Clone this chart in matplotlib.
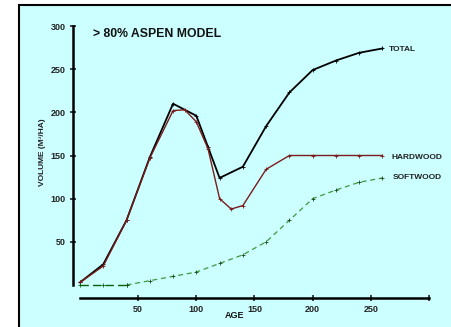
import matplotlib
matplotlib.use("Agg")
import matplotlib.pyplot as plt
from matplotlib.patches import Rectangle

plt.rcParams['font.family'] = ['Liberation Sans', 'DejaVu Sans']

# data
total_age = [0, 20, 40, 60, 80, 100, 110, 120, 140, 160, 180, 200, 220, 240, 260]
total_vol = [3, 24, 75, 148, 210, 196, 160, 124, 137, 184, 223, 249, 260, 269, 274]

hard_age = [0, 20, 40, 60, 80, 90, 100, 110, 120, 130, 140, 160, 180, 200, 220, 240, 260]
hard_vol = [3, 22, 75, 147, 202, 203, 189, 158, 100, 88, 92, 134, 150, 150, 150, 150, 150]

soft_age = [0, 20, 40, 60, 80, 100, 120, 140, 160, 180, 200, 220, 240, 260]
soft_vol = [0, 0, 0, 5, 10, 15, 25, 35, 50, 75, 100, 110, 119, 124]

x_ticks = [50, 100, 150, 200, 250, 300]
x_labels = ['50', '100', '150', '200', '250', '']
y_ticks = [50, 100, 150, 200, 250, 300]

W, H = 452, 327
fig = plt.figure(figsize=(W / 100, H / 100), dpi=100)
fig.patch.set_facecolor('white')

# cyan panel with black border on left/top (rest runs off the image)
panel = Rectangle((19 / W, -0.1), 1.2, 1.1 - 5 / H,
                  transform=fig.transFigure, facecolor='#ccffff',
                  edgecolor='black', linewidth=1.5, zorder=-5)
fig.add_artist(panel)

ax = fig.add_axes([80 / W, 42 / H, 349 / W, 259 / H])
ax.set_zorder(2)
ax.set_facecolor('none')
ax.set_xlim(0, 300)
ax.set_ylim(0, 300)

for s in ['top', 'right']:
    ax.spines[s].set_visible(False)
ax.spines['left'].set_position(('outward', 5))
ax.spines['bottom'].set_position(('outward', 9))
ax.spines['left'].set_bounds(0, 300)
ax.spines['bottom'].set_bounds(0, 300)
ax.spines['left'].set_linewidth(1.8)
ax.spines['bottom'].set_linewidth(1.8)

ax.set_xticks(x_ticks)
ax.set_xticklabels(x_labels)
ax.set_yticks(y_ticks)
ax.tick_params(direction='inout', length=5, width=1.2, labelsize=6.5, pad=3,
               colors='#222222')
for lab in ax.get_xticklabels() + ax.get_yticklabels():
    lab.set_fontweight('bold')

# lines
mk = dict(marker='+', ms=2.2, mew=0.6, clip_on=False)
ax.plot(total_age, total_vol, color='black', lw=1.3, **mk)
ax.plot(hard_age, hard_vol, color='#7a1c1c', lw=1.0, **mk)
ax.plot(soft_age[:3], soft_vol[:3], color='#0a5f0a', lw=1.0, ls=(0, (6, 3)), **mk)
ax.plot(soft_age[2:], soft_vol[2:], color='#3d9a3d', lw=0.9, ls=(0, (4, 3)),
        mec='#1a4a1a', **mk)

lab_kw = dict(textcoords='offset pixels', fontsize=6, fontweight='bold',
              va='center', ha='left', color='#222222')
ax.annotate('TOTAL', (total_age[-1], total_vol[-1]), xytext=(6, -1), **lab_kw)
ax.annotate('HARDWOOD', (hard_age[-1], hard_vol[-1]), xytext=(9, -2), **lab_kw)
ax.annotate('SOFTWOOD', (soft_age[-1], soft_vol[-1]), xytext=(10, 0), **lab_kw)

fig.text(93 / W, 1 - 34 / H, '> 80% ASPEN MODEL', fontsize=8.8,
         fontweight='bold', va='center', ha='left', color='#111111')
fig.text(235 / W, 1 - 316 / H, 'AGE', fontsize=6.5, fontweight='bold',
         va='center', ha='center', color='#111111')
fig.text(42 / W, 1 - 152 / H, 'VOLUME (M³/HA)', fontsize=6,
         fontweight='bold', rotation=90, va='center', ha='center',
         color='#222222')

fig.savefig('out.png', dpi=100)
